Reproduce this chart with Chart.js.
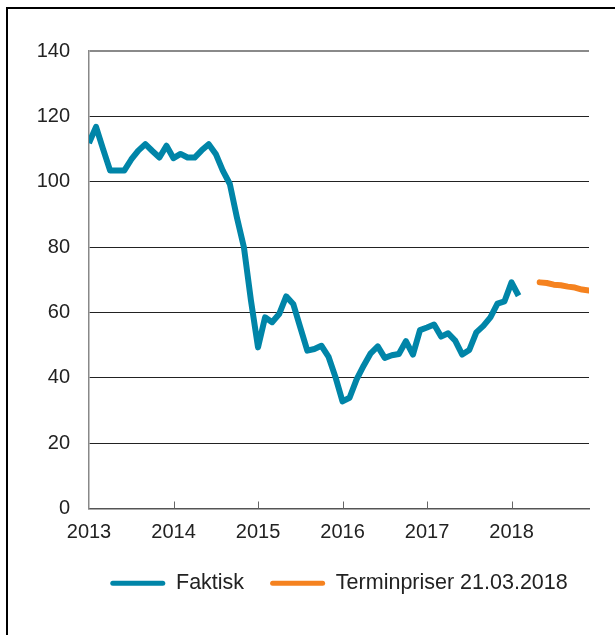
<!DOCTYPE html>
<html>
<head>
<meta charset="utf-8">
<script src="https://cdn.jsdelivr.net/npm/chart.js@4"></script>
<style>
html,body{margin:0;padding:0;background:#fff;overflow:hidden;width:615px;height:635px}
#frame{position:absolute;left:6px;top:7px;width:700px;height:700px;border-left:2.5px solid #000;border-top:2.5px solid #000}
#wrap{position:absolute;left:8px;top:10px;width:607px;height:625px}
</style>
</head>
<body>
<div id="frame"></div>
<div id="wrap"><canvas id="chart"></canvas></div>
<script>
// monthly values, first month given by *Start
const faktiskStart = "2013-01";
const faktisk = [
  111.8, 116.8, 110.0, 103.4, 103.4, 103.4, 106.8, 109.5, 111.5, 109.4, 107.4, 111.0,
  107.2, 108.5, 107.4, 107.4, 109.6, 111.5, 108.5, 103.4, 99.3, 89.1, 79.9, 63.6,
  49.3, 58.5, 57.0, 59.5, 64.9, 62.6, 55.4, 48.3, 48.8, 49.8, 46.5, 40.2,
  32.8, 33.9, 39.5, 43.7, 47.5, 49.6, 46.1, 46.9, 47.3, 51.2, 47.1, 54.6,
  55.4, 56.3, 52.6, 53.6, 51.4, 47.1, 48.5, 53.9, 55.9, 58.5, 62.7, 63.4,
  69.2, 65.1
];
const terminStart = "2018-05";
const termin = [69.2, 69.0, 68.5, 68.3, 67.9, 67.6, 67.0, 66.7];

const firstYear = 2013;
const lastMonth = "2018-12";
const yTicks = [0, 20, 40, 60, 80, 100, 120, 140];
const seriesNames = ["Faktisk", "Terminpriser 21.03.2018"];

const FONT = "'Liberation Sans', Arial, sans-serif";

function monthIndex(s){
  const [y, m] = s.split("-").map(Number);
  return (y - firstYear) * 12 + (m - 1);
}

function toPoints(values, start){
  const i0 = monthIndex(start);
  return values.map((v, i) => ({x: i0 + i, y: v}));
}

/* small inward tick marks on the x axis */
const tickMarks = {
  id: "tickMarks",
  beforeDatasetsDraw(chart){
    const {ctx, scales: {x}, chartArea} = chart;
    ctx.save();
    ctx.strokeStyle = "#666";
    ctx.lineWidth = 1;
    x.ticks.forEach(t => {
      if (t.value === 0) return;
      const px = Math.round(x.getPixelForValue(t.value)) + 0.5;
      ctx.beginPath();
      ctx.moveTo(px, chartArea.bottom);
      ctx.lineTo(px, chartArea.bottom - 7);
      ctx.stroke();
    });
    ctx.restore();
  }
};

/* center the legend under the plot area and pull it a bit closer to the axis */
const legendUnderPlot = {
  id: "legendUnderPlot",
  afterLayout(chart){
    const lg = chart.legend;
    if (!lg) return;
    const mid = (chart.chartArea.left + chart.chartArea.right) / 2;
    lg.left = mid - 300;
    lg.right = mid + 300;
    lg.width = 600;
    lg.top -= 10;
    lg.bottom -= 10;
  }
};

const ctx = document.getElementById("chart").getContext("2d");

new Chart(ctx, {
  type: "line",
  data: {
    datasets: [{
      label: seriesNames[0],
      data: toPoints(faktisk, faktiskStart),
      borderColor: "#0085a8",
      backgroundColor: "#0085a8",
      borderWidth: 6,
      borderJoinStyle: "round",
      pointRadius: 0,
      tension: 0
    }, {
      label: seriesNames[1],
      data: toPoints(termin, terminStart),
      borderColor: "#f5821f",
      backgroundColor: "#f5821f",
      borderWidth: 6,
      borderJoinStyle: "round",
      borderCapStyle: "round",
      pointRadius: 0,
      tension: 0
    }]
  },
  options: {
    responsive: true,
    maintainAspectRatio: false,
    animation: false,
    layout: {padding: {top: 41, right: 26, bottom: 21, left: 0}},
    plugins: {
      tooltip: {enabled: false},
      legend: {
        position: "bottom",
        labels: {
          boxWidth: 55,
          boxHeight: 5,
          useBorderRadius: true,
          borderRadius: 2.5,
          padding: 26,
          color: "#222",
          font: {family: FONT, size: 21.5},
          generateLabels(chart){
            return Chart.defaults.plugins.legend.labels.generateLabels(chart)
              .map(l => Object.assign(l, {lineWidth: 0}));
          }
        }
      }
    },
    scales: {
      x: {
        type: "linear",
        min: 0,
        max: monthIndex(lastMonth),
        grid: {display: false, drawTicks: false},
        border: {display: true, color: "#555", width: 1.5},
        ticks: {
          stepSize: 12,
          includeBounds: false,
          autoSkip: false,
          maxRotation: 0,
          padding: 12,
          color: "#222",
          font: {family: FONT, size: 20},
          callback: v => String(firstYear + v / 12)
        }
      },
      y: {
        min: yTicks[0],
        max: yTicks[yTicks.length - 1],
        afterFit(scale){ scale.width = 81; },
        afterBuildTicks(scale){ scale.ticks = yTicks.map(v => ({value: v})); },
        grid: {
          drawTicks: false,
          color: c => (c.tick.value === 0 || c.tick.value === 140) ? "#8a8a8a" : "#222",
          lineWidth: c => c.tick.value === 140 ? 2 : 1
        },
        border: {display: true, color: "#888", width: 1.5},
        ticks: {
          padding: 19,
          color: "#222",
          font: {family: FONT, size: 20}
        }
      }
    }
  },
  plugins: [tickMarks, legendUnderPlot]
});
</script>
</body>
</html>
